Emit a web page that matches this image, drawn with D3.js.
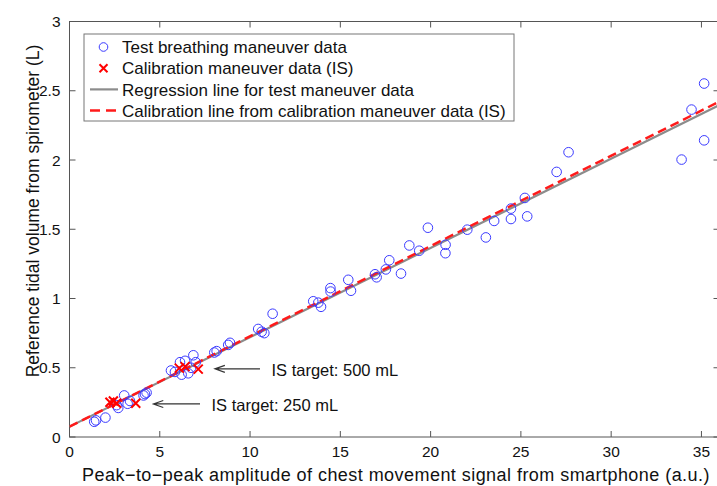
<!DOCTYPE html>
<html><head><meta charset="utf-8">
<script src="https://cdn.jsdelivr.net/npm/d3@7"></script>
<style>
body{margin:0;background:#fff}
svg{display:block}
text{font-family:"Liberation Sans",Arial,Helvetica,sans-serif;fill:#111}
</style>
</head><body>
<svg id="c" width="717" height="486"></svg>
<script>
// ---- data ----
const testX = [1.37,1.47,1.99,2.61,2.70,3.03,3.22,3.35,4.10,4.18,4.27,
  5.62,5.84,6.12,6.21,6.40,6.58,6.73,6.86,6.99,8.02,8.15,8.79,8.89,
  10.45,10.64,10.79,11.25,13.50,13.78,13.93,14.45,14.46,15.44,15.59,
  16.92,17.01,17.52,17.71,18.36,18.82,19.37,19.85,20.83,20.82,22.03,
  23.06,23.52,24.45,24.45,25.22,25.35,26.98,27.64,33.90,34.45,35.15,35.15];
const testY = [0.11,0.12,0.14,0.23,0.21,0.30,0.24,0.26,0.30,0.31,0.32,
  0.48,0.47,0.54,0.45,0.55,0.46,0.50,0.59,0.54,0.61,0.62,0.665,0.68,
  0.78,0.76,0.75,0.89,0.98,0.97,0.94,1.075,1.05,1.135,1.056,
  1.175,1.153,1.21,1.276,1.18,1.383,1.345,1.511,1.388,1.327,1.497,
  1.441,1.56,1.574,1.649,1.726,1.593,1.914,2.056,2.003,2.364,2.552,2.142];
const calX = [2.24,2.43,2.61,3.67,6.08,6.40,7.13];
const calY = [0.251,0.26,0.244,0.244,0.497,0.508,0.49];
const regLineX = [0,36];
const regLineY = [0.075,2.397];
const calLineX = [0,36];
const calLineY = [0.075,2.422];
const xTicks = [0,5,10,15,20,25,30,35];
const yTicks = [0,0.5,1,1.5,2,2.5,3];
const yTickLabels = ["0","0.5","1","1.5","2","2.5","3"];
const legendLabels = ["Test breathing maneuver data","Calibration maneuver data (IS)",
  "Regression line for test maneuver data","Calibration line from calibration maneuver data (IS)"];
const annoText = ["IS target: 500 mL","IS target: 250 mL"];
const annoTip = [[8.05,0.492],[4.64,0.239]];   // arrow tips (data units)
const annoTail = [[10.55,0.492],[7.23,0.239]];
const xLabel = "Peak\u2212to\u2212peak amplitude of chest movement signal from smartphone (a.u.)";
const yLabel = "Reference tidal volume from spirometer (L)";

// ---- chart ----
const svg = d3.select("#c");
const L=69.5, R=719.5, T=21.5, B=437;
const x = d3.scaleLinear().domain([0,36]).range([L,R]);
const y = d3.scaleLinear().domain([0,3]).range([B,T]);

svg.append("defs").append("clipPath").attr("id","clip")
  .append("rect").attr("x",L).attr("y",T).attr("width",R-L).attr("height",B-T);

const axisCol="#555";
svg.append("rect").attr("x",L).attr("y",T).attr("width",R-L).attr("height",B-T)
  .attr("fill","none").attr("stroke",axisCol).attr("stroke-width",1);
const tk=6;
xTicks.forEach(v=>{
  svg.append("line").attr("x1",x(v)).attr("x2",x(v)).attr("y1",B).attr("y2",B-tk).attr("stroke",axisCol);
  svg.append("line").attr("x1",x(v)).attr("x2",x(v)).attr("y1",T).attr("y2",T+tk).attr("stroke",axisCol);
  svg.append("text").attr("x",x(v)).attr("y",457).attr("text-anchor","middle")
    .attr("font-size","15.5px").text(v);
});
yTicks.forEach((v,i)=>{
  svg.append("line").attr("y1",y(v)).attr("y2",y(v)).attr("x1",L).attr("x2",L+tk).attr("stroke",axisCol);
  svg.append("line").attr("y1",y(v)).attr("y2",y(v)).attr("x1",R).attr("x2",R-tk).attr("stroke",axisCol);
  svg.append("text").attr("x",60.5).attr("y",y(v)).attr("dy","0.36em").attr("text-anchor","end")
    .attr("font-size","15.5px").text(yTickLabels[i]);
});

svg.append("text").attr("x",396).attr("y",481).attr("text-anchor","middle")
  .attr("font-size","18px").attr("letter-spacing","0.45px").text(xLabel);
svg.append("text").attr("transform","translate(39,211) rotate(-90)").attr("text-anchor","middle")
  .attr("font-size","17.5px").text(yLabel);

const plot = svg.append("g").attr("clip-path","url(#clip)");
const line = d3.line().x(d=>x(d[0])).y(d=>y(d[1]));
plot.append("path").datum(d3.zip(regLineX,regLineY)).attr("d",line)
  .attr("fill","none").attr("stroke","#8c8c8c").attr("stroke-width",2.2);
plot.append("path").datum(d3.zip(calLineX,calLineY)).attr("d",line)
  .attr("fill","none").attr("stroke","#ff1a1a").attr("stroke-width",2.5).attr("stroke-dasharray","9,5");

plot.selectAll("circle.t").data(d3.zip(testX,testY)).enter().append("circle")
  .attr("cx",d=>x(d[0])).attr("cy",d=>y(d[1])).attr("r",4.8)
  .attr("fill","none").attr("stroke","#3b3bff").attr("stroke-width",1);
const xs=4.5;
plot.selectAll("path.c").data(d3.zip(calX,calY)).enter().append("path")
  .attr("d",d=>{const cx=x(d[0]),cy=y(d[1]);return `M${cx-xs},${cy-xs}L${cx+xs},${cy+xs}M${cx-xs},${cy+xs}L${cx+xs},${cy-xs}`;})
  .attr("stroke","#ff0000").attr("stroke-width",2).attr("fill","none");

annoText.forEach((t,i)=>{
  const tx=x(annoTip[i][0]), ty=y(annoTip[i][1]);
  const ex=x(annoTail[i][0]);
  svg.append("path").attr("d",`M${ex},${ty}L${tx},${ty}M${tx+10},${ty-3.5}L${tx},${ty}L${tx+10},${ty+3.5}`)
    .attr("stroke","#333").attr("stroke-width",1.1).attr("fill","none");
  svg.append("text").attr("x",ex+11.5).attr("y",ty).attr("dy","0.45em").attr("font-size","16.5px").text(t);
});

const lg = svg.append("g");
lg.append("rect").attr("x",84).attr("y",34).attr("width",430).attr("height",87)
  .attr("fill","#fff").attr("stroke","#777").attr("stroke-width",1);
legendLabels.forEach((t,i)=>{
  const cy=47+i*21.2;
  if(i===0) lg.append("circle").attr("cx",103.5).attr("cy",cy).attr("r",4.3).attr("fill","none").attr("stroke","#3b3bff");
  if(i===1) lg.append("path").attr("d",`M${99.5},${cy-4}L${107.5},${cy+4}M${99.5},${cy+4}L${107.5},${cy-4}`).attr("stroke","#ff0000").attr("stroke-width",2);
  if(i===2) lg.append("line").attr("x1",90).attr("x2",118).attr("y1",cy).attr("y2",cy).attr("stroke","#8c8c8c").attr("stroke-width",2.2);
  if(i===3) lg.append("line").attr("x1",90).attr("x2",118).attr("y1",cy).attr("y2",cy).attr("stroke","#ff1a1a").attr("stroke-width",2.5).attr("stroke-dasharray","10,6");
  lg.append("text").attr("x",122).attr("y",cy).attr("dy","0.36em").attr("font-size","17px").text(t);
});
</script>
</body></html>
